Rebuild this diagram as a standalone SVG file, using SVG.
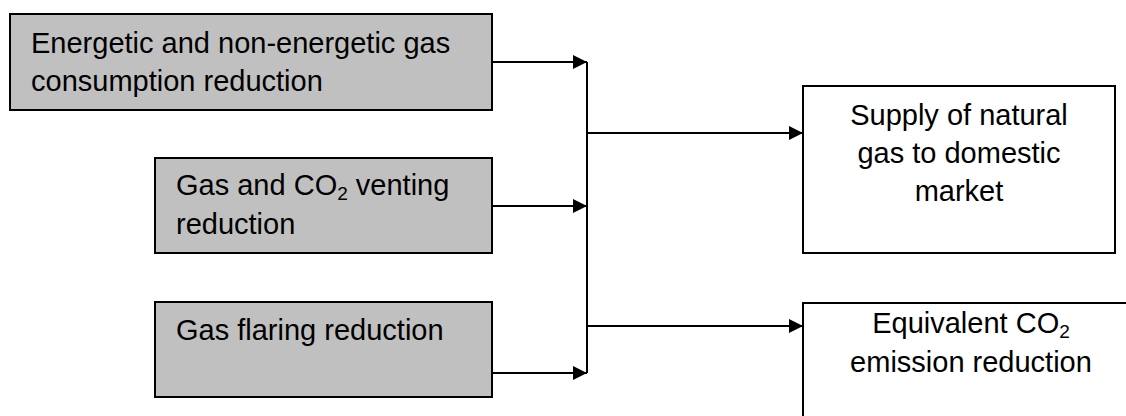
<svg xmlns="http://www.w3.org/2000/svg" width="1126" height="416" viewBox="0 0 1126 416">
<defs>
<style>
.src{fill:#C0C0C0;stroke:#000;stroke-width:2}
.dst{fill:#fff;stroke:#000;stroke-width:2}
.t{font-family:"Liberation Sans",Arial,sans-serif;font-size:29px;fill:#000}
.c{text-anchor:middle}
.sub{font-size:19px}
.ln{fill:none;stroke:#000;stroke-width:2}
</style>
<marker id="ah" viewBox="0 0 14 14" refX="14" refY="7" markerWidth="14" markerHeight="14" markerUnits="userSpaceOnUse" orient="auto">
<path d="M0,0 L14,7 L0,14 Z" fill="#000"/>
</marker>
</defs>
<rect width="1126" height="416" fill="#fff"/>
<g id="connectors">
<line class="ln" x1="587" y1="62" x2="587" y2="373"/>
<line class="ln" x1="492" y1="62" x2="587" y2="62" marker-end="url(#ah)"/>
<line class="ln" x1="492" y1="206" x2="587" y2="206" marker-end="url(#ah)"/>
<line class="ln" x1="492" y1="373" x2="587" y2="373" marker-end="url(#ah)"/>
<line class="ln" x1="587" y1="133" x2="803" y2="133" marker-end="url(#ah)"/>
<line class="ln" x1="587" y1="326" x2="803" y2="326" marker-end="url(#ah)"/>
</g>
<g id="n1">
<rect class="src" x="10" y="14" width="482" height="96"/>
<text class="t" x="31" y="53">Energetic and non-energetic gas</text>
<text class="t" x="31" y="91">consumption reduction</text>
</g>
<g id="n2">
<rect class="src" x="155" y="158" width="337" height="95"/>
<text class="t" x="176" y="195">Gas and CO<tspan class="sub" dy="5">2</tspan><tspan dy="-5"> venting</tspan></text>
<text class="t" x="176" y="234">reduction</text>
</g>
<g id="n3">
<rect class="src" x="155" y="302" width="337" height="95"/>
<text class="t" x="176" y="340">Gas flaring reduction</text>
</g>
<g id="n4">
<rect class="dst" x="803" y="86" width="312" height="167"/>
<text class="t c" x="959" y="125">Supply of natural</text>
<text class="t c" x="959" y="163">gas to domestic</text>
<text class="t c" x="959" y="201">market</text>
</g>
<g id="n5">
<rect class="dst" x="803" y="303" width="336" height="170"/>
<text class="t c" x="971" y="333">Equivalent CO<tspan class="sub" dy="5">2</tspan></text>
<text class="t c" x="971" y="372">emission reduction</text>
</g>
</svg>
